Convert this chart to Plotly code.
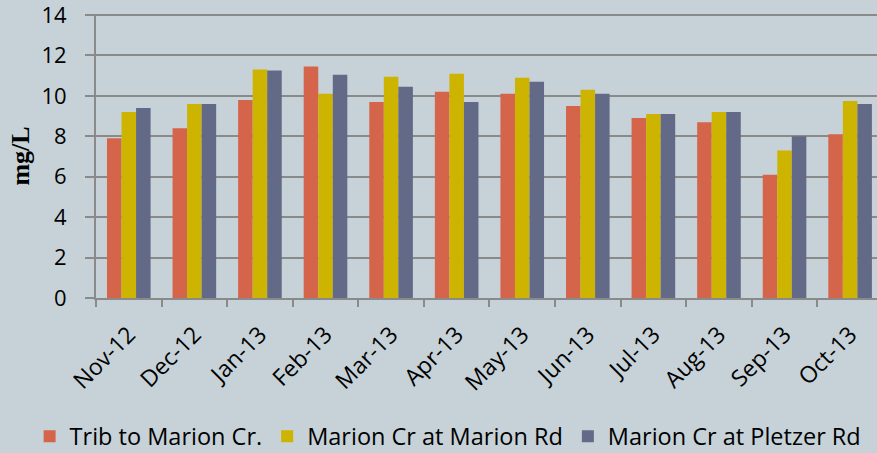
import plotly.graph_objects as go

months = ["Nov-12", "Dec-12", "Jan-13", "Feb-13", "Mar-13", "Apr-13",
          "May-13", "Jun-13", "Jul-13", "Aug-13", "Sep-13", "Oct-13"]
trib = [7.9, 8.4, 9.8, 11.45, 9.7, 10.2, 10.1, 9.5, 8.9, 8.7, 6.1, 8.1]
marion_rd = [9.2, 9.6, 11.3, 10.1, 10.95, 11.1, 10.9, 10.3, 9.1, 9.2, 7.3, 9.75]
pletzer_rd = [9.4, 9.6, 11.25, 11.05, 10.45, 9.7, 10.7, 10.1, 9.1, 9.2, 8.0, 9.6]

series = [
    ("Trib to Marion Cr.", trib, "#D4654B"),
    ("Marion Cr at Marion Rd", marion_rd, "#CDB400"),
    ("Marion Cr at Pletzer Rd", pletzer_rd, "#636A87"),
]

font_family = "Open Sans, Noto Sans, Liberation Sans, sans-serif"

fig = go.Figure()
for name, vals, color in series:
    fig.add_trace(go.Bar(x=months, y=vals, name=name,
                         marker=dict(color=color, line=dict(width=0))))

fig.update_layout(
    width=877, height=453,
    margin=dict(l=96, r=0, t=14, b=155, autoexpand=False),
    paper_bgcolor="#C6D2D8",
    plot_bgcolor="#C6D2D8",
    barmode="group",
    bargap=0.335,
    bargroupgap=0,
    font=dict(family=font_family, size=20, color="#000000"),
    showlegend=True,
    legend=dict(orientation="h", x=-0.085, xanchor="left", y=-0.41, yanchor="top",
                font=dict(family=font_family, size=23.5, color="#000000"),
                itemsizing="constant", traceorder="normal", bgcolor="rgba(0,0,0,0)",
                itemwidth=30),
    xaxis=dict(
        type="category",
        range=[-0.5, 11.41],
        tickson="boundaries",
        ticks="outside", ticklen=7, tickcolor="#8A8A8A", tickwidth=2,
        showline=True, linecolor="#8A8A8A", linewidth=2,
        showgrid=False,
        tickangle=-45,
        ticklabelstandoff=12,
        automargin=False,
        ticklabeloverflow="allow",
        tickfont=dict(family=font_family, size=23, color="#000000"),
    ),
    yaxis=dict(
        range=[0, 14.05], dtick=2,
        ticks="outside", ticklen=9, tickcolor="#8A8A8A", tickwidth=2,
        showline=True, linecolor="#8A8A8A", linewidth=2,
        showgrid=True, gridcolor="#8A8A8A", gridwidth=2,
        zeroline=False,
        automargin=False,
        ticklabelstandoff=14,
        ticklabeloverflow="allow",
        tickfont=dict(family=font_family, size=22, color="#000000"),
        title=dict(text="<b>mg/L</b>", standoff=4,
                   font=dict(family="Liberation Serif, Times New Roman, serif", size=26, color="#000000")),
    ),
)

fig.write_html("out.html", config={"displayModeBar": False},
               post_script="document.body.style.margin='0';document.body.style.background='#C6D2D8';")
